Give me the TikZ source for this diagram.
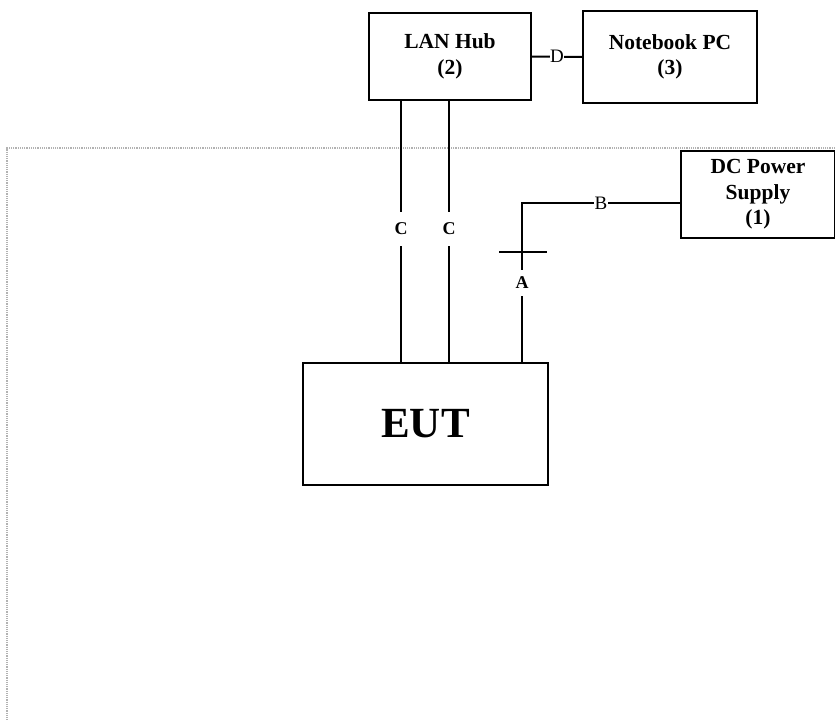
\documentclass[tikz,border=0pt]{standalone}
\usepackage{fontspec}
\setmainfont{Liberation Serif}
\begin{document}
\begin{tikzpicture}[x=1pt,y=-1pt,
  box/.style={draw,line width=2pt,rectangle,align=center,font=\fontsize{21.5}{25.5}\selectfont\bfseries,inner sep=0pt},
  wire/.style={line width=2pt},
  lab/.style={fill=white,inner sep=1pt,minimum height=34pt,font=\fontsize{18}{20}\selectfont\bfseries},
  labr/.style={fill=white,inner sep=1pt,font=\fontsize{19}{20}\selectfont}
]
\useasboundingbox (0,0) rectangle (835,720);
% frame
\draw[black!30,line width=1.2pt,densely dotted] (835,148) -- (7,148) -- (7,720);
% nodes
\node[box,minimum width=162pt,minimum height=87pt] (hub) at (450,56.5) {LAN Hub\\(2)};
\node[box,minimum width=174pt,minimum height=92pt] (nb) at (670,57) {Notebook PC\\(3)};
\node[box,minimum width=154pt,minimum height=87pt] (dc) at (758,194.5) {DC Power\\Supply\\(1)};
\node[box,minimum width=245pt,minimum height=122pt,font=\fontsize{43}{45}\selectfont\bfseries] (eut) at (425.5,424) {EUT};
\coordinate (c1) at (401,0);
\coordinate (c2) at (449,0);
\coordinate (pa) at (522,0);
\coordinate (bend) at (522,203);
% connectors
\draw[wire] (hub.east) -- node[labr,inner sep=0.5pt]{D} (nb.west);
\draw[wire] (hub.south -| c1) -- node[lab,pos=0.49]{C} (eut.north -| c1);
\draw[wire] (hub.south -| c2) -- node[lab,pos=0.49]{C} (eut.north -| c2);
\draw[wire] (eut.north -| pa) -- node[lab,pos=0.5,minimum height=26pt]{A} (bend) -- node[labr,inner sep=0.5pt]{B} (dc.west |- bend);
\coordinate (t1) at (499,252);
\coordinate (t2) at (547,252);
\draw[wire] (t1) -- (t2);
\end{tikzpicture}
\end{document}
